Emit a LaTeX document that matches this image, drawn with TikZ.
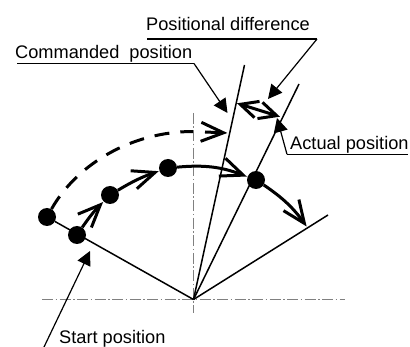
\documentclass[tikz,border=0pt]{standalone}
\usepackage{fontspec}
\setmainfont{Liberation Sans}
\usetikzlibrary{arrows.meta,positioning,calc}
\pgfdeclarearrow{
  name=Wide Barb,
  defaults={length=27pt,width=19pt,line width=3pt},
  parameters={\the\pgfarrowlength,\the\pgfarrowwidth,\the\pgfarrowlinewidth},
  setup code={
    \pgfarrowssettipend{0pt}
    \pgfarrowssetlineend{-6pt}
    \pgfarrowssetbackend{-\pgfarrowlength}
    \pgfarrowssavethe\pgfarrowlength
    \pgfarrowssavethe\pgfarrowwidth
    \pgfarrowssavethe\pgfarrowlinewidth
  },
  drawing code={
    \pgfsetdash{}{0pt}
    \pgfsetlinewidth{\pgfarrowlinewidth}
    \pgfsetbuttcap
    \pgfsetmiterjoin
    \pgfpathmoveto{\pgfpoint{-\pgfarrowlength}{.5\pgfarrowwidth}}
    \pgfpathlineto{\pgfpoint{-4.5pt}{0pt}}
    \pgfpathlineto{\pgfpoint{-\pgfarrowlength}{-.5\pgfarrowwidth}}
    \pgfusepathqstroke
  },
}
\tikzset{
  dot/.style={circle, fill=black, inner sep=0pt, minimum size=18pt},
  axisline/.style={draw=black!50, line width=0.7pt, dash pattern=on 11pt off 2.5pt on 1.5pt off 2.5pt},
  radial/.style={line width=1.5pt},
  track/.style={line width=3pt, -{Wide Barb}},
  leader/.style={line width=1.2pt},
  pointer/.style={leader, -{Triangle[length=14pt,width=14pt]}},
  lbl/.style={inner sep=0pt, font=\fontsize{18.2}{20}\selectfont},
}
\begin{document}
\begin{tikzpicture}[x=1pt,y=-1pt]
  \useasboundingbox (0,0) rectangle (410,347);
  % axes
  \coordinate (o) at (193.5,299.5);
  \draw[axisline] (42,299.5) -- (345,299.5);
  \draw[axisline] (193.5,113) -- (193.5,313);

  % radial lines
  \coordinate (cmdtop) at (244.5,65);
  \coordinate (acttop) at (299,84);
  \coordinate (endpt) at (328,215);
  \node[dot] (p0) at (47,217) {};
  \node[dot] (p1) at (77,235) {};
  \node[dot] (p2) at (110,195) {};
  \node[dot] (p3) at (168,168) {};
  \node[dot] (p4) at (256,180) {};
  \draw[radial] (o) -- (cmdtop);
  \draw[radial] (o) -- (acttop);
  \draw[radial] (o) -- (endpt);
  \draw[radial] (o) -- (p0);

  % dashed path
  \coordinate (dashend) at (193,131.5);
  \coordinate (stem) at (205,132);
  \coordinate (cmdend) at (228,133);
  \draw[line width=3pt, dash pattern=on 15pt off 11pt] (p0) .. controls (77,164) and (132,131.5) .. (dashend);
  \draw[track] (stem) -- (cmdend);

  % actual path
  \draw[track] (p1) to[bend left=5] (p2);
  \draw[track] (p2) to[bend left=6] (p3);
  \draw[track] (p3) to[bend left=13] (p4);
  \coordinate (pend) at (307,227);
  \draw[track] (p4) to[bend left=10] (pend);

  % difference
  \coordinate (d1) at (236,103);
  \coordinate (d2) at (281,117);
  \draw[line width=3pt, {Wide Barb[length=22pt,width=17pt]}-{Wide Barb[length=22pt,width=17pt]}] (d1) -- (d2);

  % labels
  \node[lbl, anchor=base west] (difftext) at (146,30.5) {Positional difference};
  \node[lbl, anchor=base west] (cmdtext) at (15,59) {Commanded\ \ position};
  \node[lbl, anchor=base west] (acttext) at (290,150) {Actual position};
  \node[lbl, anchor=base west] (starttext) at (59,344) {Start position};

  % leaders
  \draw[leader] (147,39) -- (317,39);
  \draw[pointer] (317,39) -- (268,99);
  \draw[leader] (17,63.5) -- (194,63.5);
  \draw[pointer] (194,63.5) -- (227.5,113);
  \draw[leader] (408,154.3) -- (287,154.3);
  \draw[pointer] (287,154.3) -- (277,118);
  \draw[pointer] (44,347) -- (90,251);
\end{tikzpicture}
\end{document}
